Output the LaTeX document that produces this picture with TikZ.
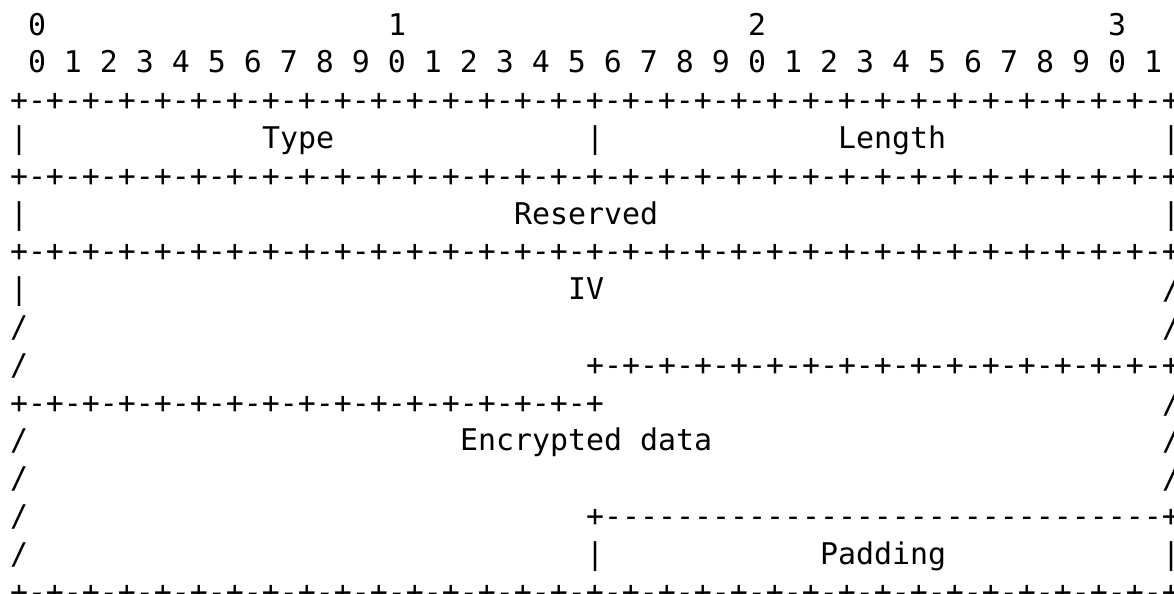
\documentclass[tikz,border=0pt]{standalone}
\usepackage{fontspec}
\newfontfamily\asciimono{DejaVu Sans Mono}[Ligatures=TeXOff]
\newcommand\bitrule{+-+-+-+-+-+-+-+-+-+-+-+-+-+-+-+-+-+-+-+-+-+-+-+-+-+-+-+-+-+-+-+-+}
\newcommand\halfrule{+-+-+-+-+-+-+-+-+-+-+-+-+-+-+-+-+}
\tikzset{
  cell/.style={font=\asciimono\fontsize{29.9}{36}\selectfont,
    inner sep=0pt, outer sep=0pt, anchor=base west}
}

\begin{document}
\begin{tikzpicture}[x=18pt, y=-37.8pt]
    \useasboundingbox (-0.5556,-0.926) rectangle (64.667,14.788);

    % bit numbers
    \node[cell] (dec0) at (1,0) {0};
    \node[cell] (dec1) at (21,0) {1};
    \node[cell] (dec2) at (41,0) {2};
    \node[cell] (dec3) at (61,0) {3};
    \node[cell] (bits) at (1,1) {0 1 2 3 4 5 6 7 8 9 0 1 2 3 4 5 6 7 8 9 0 1 2 3 4 5 6 7 8 9 0 1};

    % type / length
    \node[cell] (rule0) at (0,2) {\bitrule};
    \node[cell] (typel) at (0,3) {|};
    \node[cell] (type) at (14,3) {Type};
    \node[cell] (typer) at (32,3) {|};
    \node[cell] (length) at (46,3) {Length};
    \node[cell] (lengthr) at (64,3) {|};

    % reserved
    \node[cell] (rule1) at (0,4) {\bitrule};
    \node[cell] (resl) at (0,5) {|};
    \node[cell] (reserved) at (28,5) {Reserved};
    \node[cell] (resr) at (64,5) {|};
    \node[cell] (rule2) at (0,6) {\bitrule};

    % IV
    \node[cell] (ivl) at (0,7) {|};
    \node[cell] (iv) at (31,7) {IV};
    \node[cell] (ivr) at (64,7) {/};
    \node[cell] (ivl2) at (0,8) {/};
    \node[cell] (ivr2) at (64,8) {/};
    \node[cell] (ivl3) at (0,9) {/};
    \node[cell] (ivend) at (32,9) {\halfrule};

    % encrypted data
    \node[cell] (encstart) at (0,10) {\halfrule};
    \node[cell] (encr) at (64,10) {/};
    \node[cell] (encl) at (0,11) {/};
    \node[cell] (enc) at (25,11) {Encrypted data};
    \node[cell] (encr2) at (64,11) {/};
    \node[cell] (encl2) at (0,12) {/};
    \node[cell] (encr3) at (64,12) {/};
    \node[cell] (encl3) at (0,13) {/};
    \node[cell] (padtop) at (32,13) {+-------------------------------+};

    % padding
    \node[cell] (encl4) at (0,14) {/};
    \node[cell] (padl) at (32,14) {|};
    \node[cell] (padding) at (45,14) {Padding};
    \node[cell] (padr) at (64,14) {|};
    \node[cell] (rule3) at (0,15) {\bitrule};
\end{tikzpicture}
\end{document}
